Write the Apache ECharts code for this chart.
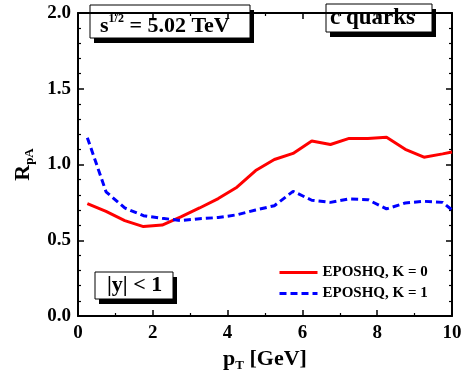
<!DOCTYPE html>
<html><head><meta charset="utf-8">
<script src="https://cdn.jsdelivr.net/npm/echarts@6/dist/echarts.min.js"></script>
<style>html,body{margin:0;padding:0;background:#fff}#c{width:461px;height:374px}</style>
</head><body><div id="c"></div>
<script>
const xK0 = [0.25,0.75,1.25,1.75,2.25,2.75,3.25,3.75,4.25,4.75,5.25,5.75,6.25,6.75,7.25,7.75,8.25,8.75,9.25,9.75,10.0];
const yK0 = [0.742,0.69,0.63,0.59,0.60,0.655,0.713,0.775,0.85,0.96,1.033,1.073,1.155,1.132,1.172,1.172,1.18,1.10,1.048,1.07,1.083];
const xK1 = [0.25,0.75,1.25,1.75,2.25,2.75,3.25,3.75,4.25,4.75,5.25,5.75,6.25,6.75,7.25,7.75,8.25,8.75,9.25,9.75,10.0];
const yK1 = [1.177,0.82,0.713,0.662,0.645,0.63,0.642,0.65,0.668,0.70,0.728,0.823,0.764,0.75,0.773,0.768,0.707,0.746,0.757,0.75,0.70];
const seriesNames = ['EPOSHQ, K = 0','EPOSHQ, K = 1'];
const yTicks = ['0.0','0.5','1.0','1.5','2.0'];

const F = 'Liberation Serif, Times New Roman, serif';
const chart = echarts.init(document.getElementById('c'), null, {renderer:'canvas'});
function pairs(xs, ys){ return xs.map((x,i)=>[x, ys[i]]); }
const AL = {show:true, onZero:false, lineStyle:{color:'#000', width:2}};
const AT = {show:true, inside:true, length:6, lineStyle:{color:'#000', width:1.5}};
function box(x, y, w, h, textObj){
  return {type:'group', children:[
    {type:'rect', shape:{x:x+4, y:y+5, width:w, height:h}, style:{fill:'#000'}},
    {type:'rect', shape:{x:x, y:y, width:w, height:h}, style:{fill:'#fff', stroke:'#000', lineWidth:1}},
    textObj
  ]};
}
const nameRich = {a:{fontFamily:F, fontWeight:'bold', fontSize:22, color:'#000'},
      b:{fontFamily:F, fontWeight:'bold', fontSize:13, color:'#000', padding:[14,0,0,0]}};
chart.setOption({
  animation:false,
  grid:{left:78, right:9, top:13, bottom:58, outerBoundsMode:'none', containLabel:false},
  xAxis:[{type:'value', min:0, max:10, interval:2, position:'bottom',
    axisLine:AL, axisTick:AT, splitLine:{show:false},
    minorTick:{show:true, splitNumber:2, length:3, lineStyle:{color:'#000', width:1.2}},
    axisLabel:{color:'#000', fontFamily:F, fontWeight:'bold', fontSize:19, margin:8},
    name:'{a|p}{b|T}{a| [GeV]}', nameLocation:'middle', nameGap:29,
    nameTextStyle:{rich:nameRich}
  },
  {type:'value', min:0, max:10, interval:2, position:'top',
    axisLine:AL, axisTick:AT, splitLine:{show:false},
    minorTick:{show:true, splitNumber:2, length:3, lineStyle:{color:'#000', width:1.2}},
    axisLabel:{show:false}}],
  yAxis:[{type:'value', min:0, max:2, interval:0.5, position:'left',
    axisLine:AL, axisTick:AT, splitLine:{show:false},
    minorTick:{show:true, splitNumber:5, length:3, lineStyle:{color:'#000', width:1.2}},
    axisLabel:{color:'#000', fontFamily:F, fontWeight:'bold', fontSize:19, margin:7,
      formatter:(v)=>yTicks[Math.round(v/0.5)]},
    name:'{a|R}{b|pA}', nameLocation:'middle', nameGap:40, nameRotate:90,
    nameTextStyle:{rich:nameRich}
  },
  {type:'value', min:0, max:2, interval:0.5, position:'right',
    axisLine:AL, axisTick:AT, splitLine:{show:false},
    minorTick:{show:true, splitNumber:5, length:3, lineStyle:{color:'#000', width:1.2}},
    axisLabel:{show:false}}],
  legend:{show:true, orient:'vertical', left:273, top:260, itemWidth:38, itemHeight:14, itemGap:6,
    itemStyle:{opacity:0},
    lineStyle:{width:3},
    textStyle:{fontFamily:F, fontWeight:'bold', fontSize:15, color:'#000'},
    data:seriesNames},
  series:[
    {name:seriesNames[0], type:'line', data:pairs(xK0,yK0), symbol:'none', showSymbol:false,
      lineStyle:{color:'#ff0000', width:3}, itemStyle:{color:'#ff0000'}},
    {name:seriesNames[1], type:'line', data:pairs(xK1,yK1), symbol:'none', showSymbol:false,
      lineStyle:{color:'#0000ff', width:3, type:[7,4]}, itemStyle:{color:'#0000ff'}}
  ],
  graphic:[
    box(90, 5, 160, 33, {type:'text', x:100, y:26, style:{text:'{a|s}{b|1/2}{a| = 5.02 TeV}', verticalAlign:'middle',
      rich:{a:{fontFamily:F, fontWeight:'bold', fontSize:22, fill:'#000'},
            b:{fontFamily:F, fontWeight:'bold', fontSize:12, fill:'#000', padding:[0,0,14,0]}}}}),
    box(326, 4, 106, 28, {type:'text', x:330, y:18, style:{text:'c quarks', verticalAlign:'middle', fontFamily:F, fontWeight:'bold', fontSize:23, fill:'#000'}}),
    box(95, 272, 78, 27, {type:'text', x:107, y:285, style:{text:'|y| < 1', verticalAlign:'middle', fontFamily:F, fontWeight:'bold', fontSize:22, fill:'#000'}})
  ]
});
</script></body></html>
